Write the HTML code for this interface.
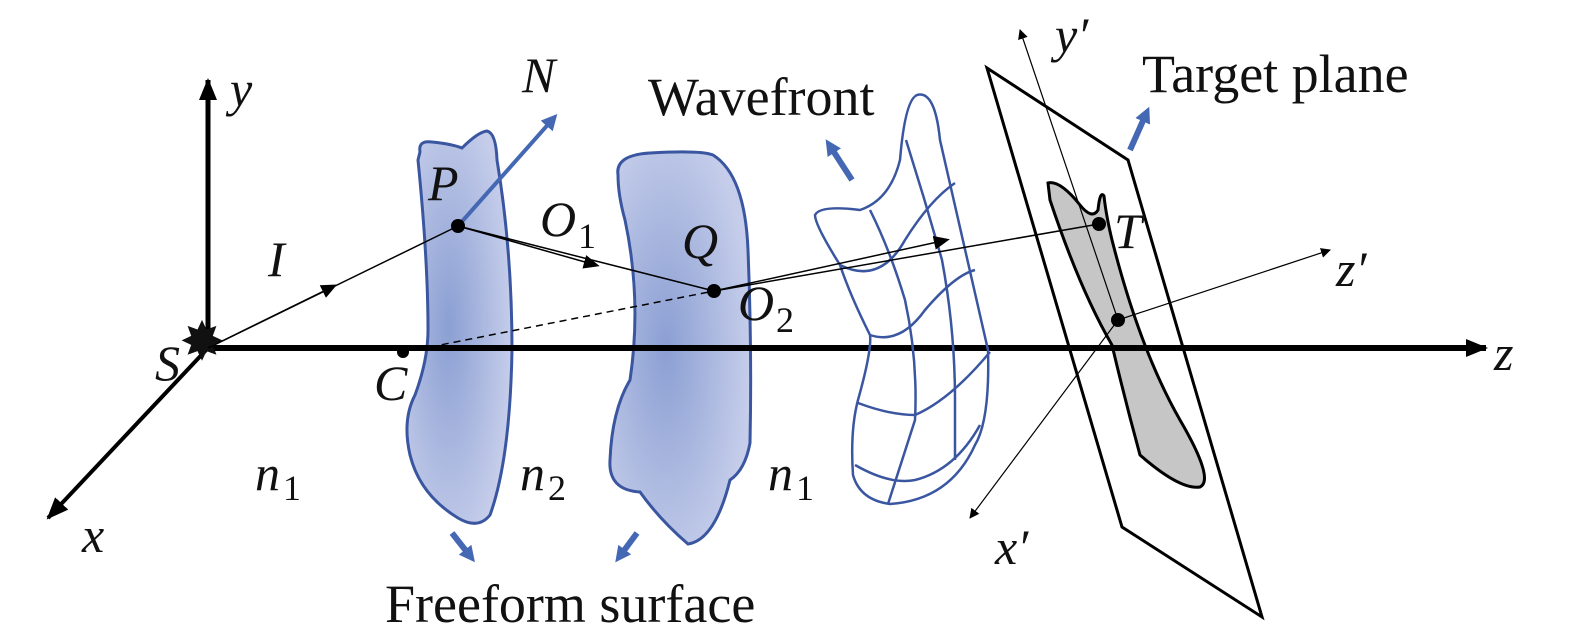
<!DOCTYPE html>
<html><head><style>body{margin:0;background:#fff}svg{display:block}text{font-family:"Liberation Serif",serif;font-size:54px;fill:#111}.i{font-style:italic;font-size:50px}.s{font-size:36px}</style></head><body>
<svg width="1575" height="642" viewBox="0 0 1575 642" xmlns="http://www.w3.org/2000/svg">
<defs>
<marker id="a" markerWidth="10" markerHeight="10" refX="9" refY="5" orient="auto" markerUnits="userSpaceOnUse"><path d="M0,0 L10,5 L0,10z" fill="#000"/></marker>
<marker id="ab" markerWidth="22" markerHeight="18" refX="20" refY="9" orient="auto" markerUnits="userSpaceOnUse"><path d="M0,0 L22,9 L0,18z" fill="#000"/></marker>
<marker id="am" markerWidth="16" markerHeight="14" refX="8" refY="7" orient="auto" markerUnits="userSpaceOnUse"><path d="M0,0 L16,7 L0,14z" fill="#000"/></marker>
<radialGradient id="g" cx="0.4" cy="0.5" r="0.6"><stop offset="0" stop-color="#8b9fd3"/><stop offset="1" stop-color="#c5cdea"/></radialGradient>
<marker id="bl" markerWidth="16" markerHeight="16" refX="8" refY="8" orient="auto" markerUnits="userSpaceOnUse"><path d="M0,0 L16,8 L0,16z" fill="#4468b3"/></marker>
</defs>
<path d="M987,68 L1128,160 L1262,617 L1122,527 Z" fill="none" stroke="#000" stroke-width="3"/>
<path d="M1048,183 Q1060,180 1080,205 Q1092,220 1098,210 Q1100,190 1104,196 Q1106,215 1112,240 Q1140,350 1180,420 Q1215,480 1200,487 Q1180,490 1140,455 Q1125,400 1112,345 Q1080,290 1050,200 Z" fill="#c6c6c6" stroke="#000" stroke-width="3"/>
<path d="M420,152 Q418,140 432,142 Q452,144 462,148 Q478,132 487,131 Q496,133 497,160 Q512,250 512,350 Q510,460 490,515 Q478,530 458,518 Q420,495 410,455 Q402,420 415,395 Q428,360 428,330 Q428,260 418,160 Z" fill="url(#g)" stroke="#3a56a0" stroke-width="3"/>
<path d="M618,175 Q615,155 650,153 Q700,150 713,155 Q745,175 748,250 Q752,350 750,443 Q745,470 730,480 Q715,540 688,544 Q660,520 640,492 Q608,490 610,460 Q612,410 630,380 Q642,300 625,220 Q618,195 618,175 Z" fill="url(#g)" stroke="#3a56a0" stroke-width="3"/>
<line x1="208" y1="350" x2="208" y2="80" stroke="#000" stroke-width="5" marker-end="url(#ab)"/>
<line x1="208" y1="348" x2="1486" y2="348" stroke="#000" stroke-width="6" marker-end="url(#ab)"/>
<line x1="208" y1="348" x2="48" y2="518" stroke="#000" stroke-width="4" marker-end="url(#ab)"/>
<text x="202" y="360" font-size="30" text-anchor="middle" fill="#000">✸</text>
<g fill="none" stroke="#3a56a0" stroke-width="2.5">
<path d="M917,95 Q935,90 940,140 Q965,250 988,350 Q990,420 975,445 Q950,500 890,504 Q860,500 853,475 Q850,430 858,400 Q872,350 870,335 Q850,295 840,265 Q815,225 815,215 Q820,205 860,210 Q890,200 900,160 Q905,100 917,95 Z"/>
<path d="M906,140 Q925,200 942,260 Q955,330 955,400 L955,460"/>
<path d="M870,210 Q890,250 905,300 Q918,360 915,420 L888,504"/>
<path d="M840,265 Q880,285 905,240 Q930,200 955,183"/>
<path d="M870,335 Q900,345 925,310 Q955,275 975,270"/>
<path d="M858,403 Q890,415 915,415 Q950,400 990,352"/>
<path d="M855,465 Q890,485 915,480 Q955,470 980,425"/>
</g>
<g stroke="#000" stroke-width="1.5" fill="none">
<line x1="208" y1="348" x2="458" y2="226"/>
<line x1="208" y1="348" x2="330" y2="288" marker-end="url(#am)"/>
<line x1="458" y1="226" x2="592" y2="264" marker-end="url(#am)"/>
<line x1="458" y1="226" x2="714" y2="291"/>
<line x1="714" y1="291" x2="1099" y2="224"/>
<line x1="714" y1="291" x2="942" y2="241" marker-end="url(#am)"/>
<line x1="430" y1="347" x2="714" y2="291" stroke-dasharray="7,5"/>
<line x1="1118" y1="320" x2="1020" y2="30" marker-end="url(#a)" stroke-width="1.2"/>
<line x1="1118" y1="320" x2="970" y2="518" marker-end="url(#a)" stroke-width="1.2"/>
<line x1="1118" y1="320" x2="1330" y2="250" marker-end="url(#a)" stroke-width="1.2"/>
</g>
<g stroke="#4468b3" stroke-width="6">
<line x1="458" y1="226" x2="552" y2="120" stroke-width="4" marker-end="url(#bl)"/>
<line x1="852" y1="180" x2="830" y2="146" marker-end="url(#bl)"/>
<line x1="1130" y1="150" x2="1146" y2="114" marker-end="url(#bl)"/>
<line x1="452" y1="533" x2="470" y2="556" marker-end="url(#bl)"/>
<line x1="637" y1="533" x2="620" y2="556" marker-end="url(#bl)"/>
</g>
<g fill="#000"><circle cx="458" cy="226" r="7"/><circle cx="714" cy="291" r="7"/><circle cx="403" cy="352" r="6"/><circle cx="1099" cy="224" r="7"/><circle cx="1118" cy="320" r="7"/></g>
<text class="i" x="230" y="106">y</text>
<text class="i" x="522" y="92">N</text>
<text x="648" y="115">Wavefront</text>
<text x="1142" y="92">Target plane</text>
<text class="i" x="428" y="200">P</text>
<text class="i" x="540" y="236">O</text><text class="s" x="578" y="248">1</text>
<text class="i" x="682" y="258">Q</text>
<text class="i" x="738" y="320">O</text><text class="s" x="776" y="332">2</text>
<text class="i" x="268" y="276">I</text>
<text class="i" x="155" y="380">S</text>
<text class="i" x="374" y="400">C</text>
<text class="i" x="1494" y="370">z</text>
<text class="i" x="1336" y="286">z′</text>
<text class="i" x="1114" y="248">T</text>
<text class="i" x="1055" y="52">y′</text>
<text class="i" x="995" y="564">x′</text>
<text class="i" x="82" y="552">x</text>
<text class="i" x="255" y="490">n</text><text class="s" x="283" y="500">1</text>
<text class="i" x="520" y="490">n</text><text class="s" x="548" y="500">2</text>
<text class="i" x="768" y="490">n</text><text class="s" x="796" y="500">1</text>
<text x="385" y="622">Freeform surface</text>
</svg>
</body></html>
